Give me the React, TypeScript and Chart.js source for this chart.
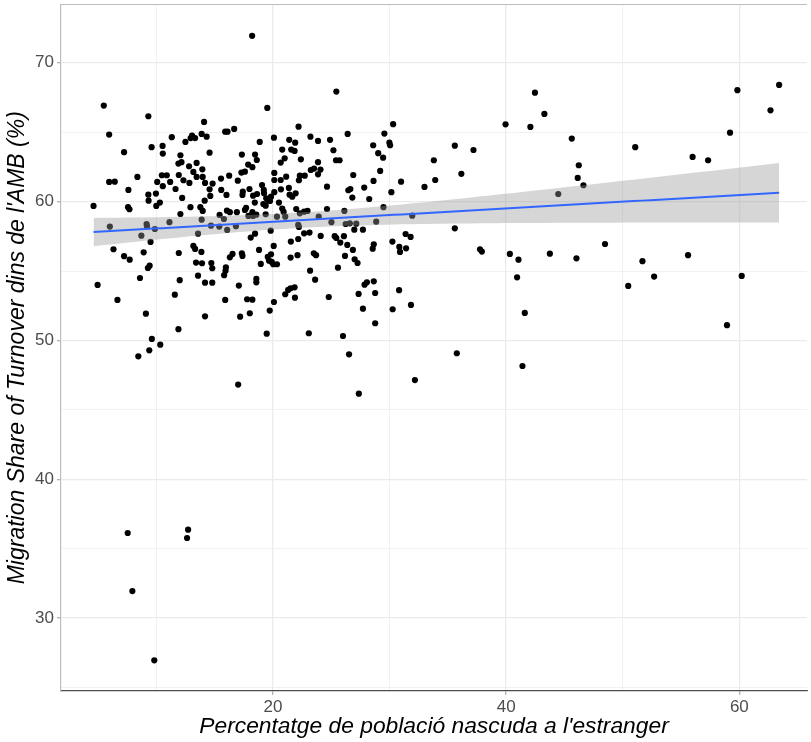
import React, { useEffect, useRef } from "react";
import { Chart, registerables } from "chart.js";

Chart.register(...registerables);

// Percentatge de població nascuda a l'estranger (x) per municipi
const xValues: number[] = [
  63.41, 59.83, 62.67, 42.47, 43.28, 39.95, 42.08, 59.2, 45.63, 35.6, 37.2, 51.07, 33.8, 55.99, 57.32, 46.23,
  36.16, 33.92, 46.14, 33.0, 46.63, 44.47, 35.6, 48.48, 37.76, 37.92, 40.32, 41.06, 43.75, 46.03, 51.69, 55.6,
  40.94, 52.69, 50.47, 60.2, 41.6, 58.94, 35.77, 41.4,
  7.55, 12.73, 12.64, 7.95, 9.83,
  9.11, 14.18, 17.19, 18.02, 19.73, 11.9, 9.62, 10.34, 9.4, 8.46, 19.47, 23.08, 26.01, 28.77, 26.53, 17.02,
  27.37, 32.18,
  18.22, 25.44,
  5.5, 9.32, 14.1, 5.96, 13.07, 13.33, 12.95, 13.89, 14.32, 15.91, 16.11, 16.68, 11.33, 12.5, 10.54, 9.6,
  7.24, 10.56, 14.57, 12.07, 11.9, 12.16, 13.46, 12.81, 13.95, 13.18, 10.48, 10.9, 11.93, 13.46, 13.98, 8.38,
  12.33, 16.25, 15.55, 5.96, 6.44, 10.08, 11.19, 12.84, 14.18, 14.83, 16.99, 10.56, 11.65, 14.57, 15.57, 7.61,
  9.32, 9.97, 14.63, 16.02, 12.22, 14.15,
  19.52, 22.2, 30.31, 29.56, 26.41, 20.09, 23.22, 18.87, 21.4, 21.91, 23.87, 24.9, 29.99, 30.05, 28.6, 20.8,
  21.57, 21.86, 25.19, 17.34, 18.47, 18.62, 29.03, 29.45, 21.01, 22.4, 25.41, 25.72, 20.67, 23.87, 17.88, 18.24,
  17.6, 17.3, 20.12, 23.25, 23.53, 24.08, 23.87, 22.31, 22.73, 21.14, 29.2, 26.89, 20.12, 20.67, 22.23, 28.63,
  30.99, 19.07, 24.64, 27.83, 17.99, 17.42, 17.39, 18.64, 18.3, 19.22, 19.24, 21.37, 20.69, 20.12, 19.84, 19.58,
  19.43, 21.43, 21.66, 21.95, 26.47, 26.64, 26.81, 28.26, 30.16,
  4.62, 7.58, 7.7, 9.34, 10.0, 10.31, 12.07, 12.93, 13.78, 13.98, 15.43, 16.06, 16.31, 16.91, 6.02, 9.17,
  9.2, 11.13, 13.89, 14.69, 15.8, 15.4, 16.08, 16.83, 9.88, 8.72, 13.58, 9.51, 13.18, 13.33, 6.33, 8.92,
  11.93, 13.87, 7.24, 7.72, 16.54, 16.31, 13.41, 13.92, 14.72, 14.8, 15.97, 15.94, 9.43, 9.28, 15.82, 8.6,
  13.58, 12.01, 14.18, 14.8, 4.97, 17.08, 11.59, 6.67, 15.91,
  18.45, 19.18, 19.38, 19.75, 17.7, 17.6, 18.24, 17.9, 18.3, 18.58, 19.38, 20.52, 20.8, 20.92, 21.06, 20.35,
  22.0, 22.31, 22.68, 22.97, 24.64, 23.93, 26.13, 29.48, 25.02, 26.24, 26.6, 27.15, 28.86, 31.95, 22.17, 22.23,
  19.81, 26.98, 27.72, 18.47, 18.1, 22.68, 23.14, 22.17, 24.1, 25.3, 25.44, 26.09, 25.78, 26.38, 21.54, 30.25,
  31.38, 31.81, 30.84, 30.9, 31.42, 28.65, 28.56, 26.86, 20.07, 18.81, 17.34, 17.39, 19.84, 19.56, 19.67, 19.9,
  20.35, 20.03, 18.96, 21.52, 22.11, 23.51, 23.7, 26.18, 27.01, 27.26, 23.19, 25.58, 23.62, 18.58, 18.58,
  28.06, 27.86, 28.65, 28.77, 27.35, 30.82, 21.06, 21.31, 21.52, 21.86, 21.89, 24.79, 17.79, 18.24, 20.09,
  31.84, 30.27, 27.72,
];

// Migration Share of Turnover dins de l'AMB (%) (y)
const yValues: number[] = [
  68.41, 68.03, 66.58, 67.85, 66.32, 65.57, 65.38, 64.97, 64.54, 64.03, 63.72, 63.92, 62.98, 63.22, 62.98, 62.62,
  62.0, 61.56, 61.71, 61.06, 61.18, 60.55, 58.08, 56.95, 56.57, 56.4, 56.23, 55.82, 56.25, 55.92, 55.71, 56.14,
  54.55, 54.6, 53.93, 54.65, 51.98, 51.1, 49.08, 48.16,
  36.13, 36.37, 35.77, 31.95, 26.96,
  51.93, 51.74, 51.71, 51.96, 52.15, 50.81, 50.11, 49.7, 49.29, 48.86, 50.49, 50.52, 50.32, 51.24, 49.0, 46.82,
  46.17, 47.15,
  71.94, 67.93,
  66.92, 66.15, 65.74, 64.83, 64.75, 64.58, 64.58, 64.88, 64.68, 65.04, 65.04, 65.24, 64.64, 64.3, 64.01, 63.92,
  63.56, 63.46, 63.53, 63.34, 62.74, 62.84, 62.79, 62.55, 62.33, 62.14, 61.9, 61.9, 61.92, 61.78, 61.78, 61.78,
  61.54, 61.87, 61.66, 61.42, 61.44, 61.42, 61.42, 61.35, 61.35, 61.3, 61.51, 61.11, 60.91, 60.89, 60.84, 60.84,
  60.5, 60.58, 60.41, 60.48, 60.27, 60.07,
  66.75, 65.4, 65.58, 64.9, 64.88, 64.61, 64.68, 64.3, 64.45, 64.25, 64.37, 64.45, 64.25, 64.06, 64.06, 63.75,
  63.75, 63.65, 63.7, 63.39, 63.39, 63.0, 63.49, 63.17, 63.12, 63.05, 62.98, 62.98, 62.81, 62.84, 62.67, 62.48,
  62.16, 62.09, 62.07, 62.28, 62.38, 62.31, 61.97, 61.87, 61.87, 61.8, 62.21, 61.92, 61.56, 61.56, 61.54, 61.49,
  61.44, 61.2, 61.08, 61.01, 60.91, 60.72, 60.48, 60.55, 60.43, 60.84, 60.6, 60.99, 60.89, 60.68, 60.36, 60.12,
  60.24, 60.5, 60.36, 60.6, 60.82, 60.91, 60.29, 60.19, 60.68,
  59.69, 59.6, 59.45, 60.07, 59.69, 59.93, 59.11, 59.6, 59.6, 59.33, 59.04, 59.35, 59.24, 59.24, 58.2, 58.39,
  58.23, 58.52, 58.7, 58.27, 58.75, 58.2, 57.96, 58.23, 58.03, 57.55, 57.69, 57.1, 56.81, 56.59, 56.57, 56.35,
  56.3, 56.38, 56.07, 55.82, 56.23, 55.99, 55.61, 55.56, 55.58, 55.2, 55.27, 55.03, 55.39, 55.22, 54.7, 54.5,
  54.67, 54.34, 54.16, 54.16, 54.0, 53.95, 53.3, 52.92, 52.92,
  59.93, 59.83, 59.71, 60.05, 59.55, 59.4, 59.24, 58.97, 58.97, 59.06, 59.09, 59.93, 59.5, 59.26, 58.92, 58.92,
  59.47, 59.16, 59.28, 59.33, 59.47, 58.92, 59.33, 59.6, 58.52, 58.39, 58.44, 58.41, 58.56, 58.99, 58.32, 58.18,
  57.91, 57.98, 57.98, 57.69, 57.41, 57.72, 57.77, 57.31, 57.53, 57.51, 57.38, 57.51, 57.05, 56.88, 57.12, 57.12,
  57.67, 57.46, 56.74, 56.38, 56.64, 56.93, 56.61, 56.52, 56.81, 56.52, 56.28, 56.09, 56.21, 56.02, 55.75, 55.66,
  55.49, 55.49, 55.51, 55.97, 56.14, 56.28, 56.14, 56.09, 55.85, 55.58, 55.03, 55.24, 54.38, 54.43, 54.19,
  54.19, 54.02, 54.26, 53.42, 53.35, 53.62, 53.33, 53.64, 53.76, 53.83, 53.08, 53.13, 52.97, 52.94, 52.77,
  52.56, 52.25, 52.29,
];

const xTickValues: number[] = [10, 20, 30, 40, 50, 60];
const xLabelled: number[] = [20, 40, 60];
const yTickValues: number[] = [25, 30, 35, 40, 45, 50, 55, 60, 65, 70];
const yLabelled: number[] = [30, 40, 50, 60, 70];

const xTitle = "Percentatge de població nascuda a l'estranger";
const yTitle = "Migration Share of Turnover dins de l'AMB (%)";

function fitLinear(xs: number[], ys: number[]) {
  const n = Math.min(xs.length, ys.length);
  let sx = 0, sy = 0;
  for (let i = 0; i < n; i++) { sx += xs[i]; sy += ys[i]; }
  const mx = sx / n, my = sy / n;
  let sxx = 0, sxy = 0;
  for (let i = 0; i < n; i++) { sxx += (xs[i] - mx) ** 2; sxy += (xs[i] - mx) * (ys[i] - my); }
  const b = sxy / sxx;
  const a = my - b * mx;
  let sse = 0;
  for (let i = 0; i < n; i++) sse += (ys[i] - a - b * xs[i]) ** 2;
  const s = Math.sqrt(sse / (n - 2));
  const t = 1.967;
  let lo = Infinity, hi = -Infinity;
  for (let i = 0; i < n; i++) { lo = Math.min(lo, xs[i]); hi = Math.max(hi, xs[i]); }
  const steps = 80;
  const line: { x: number; y: number }[] = [];
  const upper: { x: number; y: number }[] = [];
  const lower: { x: number; y: number }[] = [];
  for (let k = 0; k <= steps; k++) {
    const x = lo + ((hi - lo) * k) / steps;
    const yhat = a + b * x;
    const se = s * Math.sqrt(1 / n + (x - mx) ** 2 / sxx);
    line.push({ x, y: yhat });
    upper.push({ x, y: yhat + t * se });
    lower.push({ x, y: yhat - t * se });
  }
  return { line, upper, lower };
}

export default function App() {
  const ref = useRef<HTMLCanvasElement | null>(null);

  useEffect(() => {
    if (!ref.current) return;
    const pts = xValues.map((x, i) => ({ x, y: yValues[i] }));
    const fit = fitLinear(xValues, yValues);
    const font = "'Liberation Sans', Arial, sans-serif";

    const framePlugin = {
      id: "frame",
      afterDraw(chart: any) {
        const { left, top, right } = chart.chartArea;
        const ctx = chart.ctx;
        ctx.save();
        ctx.strokeStyle = "#bdbdbd";
        ctx.lineWidth = 1.2;
        ctx.beginPath();
        ctx.moveTo(left, top);
        ctx.lineTo(right, top);
        ctx.stroke();
        ctx.restore();
      },
    };

    const chart = new Chart(ref.current, {
      type: "scatter",
      data: {
        datasets: [
          {
            label: "points",
            data: pts,
            backgroundColor: "#000000",
            borderColor: "#000000",
            pointRadius: 3.1,
            pointBorderWidth: 0,
            order: 3,
          },
          {
            label: "upper",
            data: fit.upper,
            showLine: true,
            pointRadius: 0,
            borderWidth: 0,
            borderColor: "rgba(0,0,0,0)",
            backgroundColor: "rgba(153,153,153,0.4)",
            fill: "+1",
            order: 2,
          },
          {
            label: "lower",
            data: fit.lower,
            showLine: true,
            pointRadius: 0,
            borderWidth: 0,
            borderColor: "rgba(0,0,0,0)",
            fill: false,
            order: 2,
          },
          {
            label: "fit",
            data: fit.line,
            showLine: true,
            pointRadius: 0,
            borderWidth: 2,
            borderColor: "#3366FF",
            fill: false,
            order: 1,
          },
        ],
      },
      options: {
        animation: false,
        responsive: false,
        maintainAspectRatio: false,
        layout: { padding: { top: 4.5, right: -4, bottom: 0, left: 0 } },
        plugins: {
          legend: { display: false },
          tooltip: { enabled: false },
        },
        scales: {
          x: {
            type: "linear",
            min: 1.83,
            max: 65.8,
            afterBuildTicks: (scale: any) => {
              scale.ticks = xTickValues.map((v) => ({ value: v }));
            },
            afterFit: (scale: any) => {
              scale.height = 51;
              scale.paddingLeft = 0;
              scale.paddingRight = 0;
              scale.paddingTop = 0;
              scale.paddingBottom = 0;
            },
            grid: {
              color: (ctx: any) => "#ebebeb",
              lineWidth: (ctx: any) => (ctx.tick && xLabelled.includes(ctx.tick.value) ? 1.3 : 0.7),
              tickColor: (ctx: any) => (ctx.tick && xLabelled.includes(ctx.tick.value) ? "#b3b3b3" : "rgba(0,0,0,0)"),
              tickLength: 4,
              drawTicks: true,
            },
            border: { color: "#4d4d4d", width: 1.2 },
            ticks: {
              autoSkip: false,
              maxRotation: 0,
              padding: 2,
              color: "#4d4d4d",
              font: { family: font, size: 17 },
              callback: (v: any) => (xLabelled.includes(Number(v)) ? String(v) : ""),
            },
            title: {
              display: true,
              text: xTitle,
              color: "#000000",
              font: { family: font, size: 22.8, style: "italic" },
              padding: { top: 0, bottom: 2 },
            },
          },
          y: {
            type: "linear",
            min: 24.75,
            max: 74.2,
            afterBuildTicks: (scale: any) => {
              scale.ticks = yTickValues.map((v) => ({ value: v }));
            },
            afterFit: (scale: any) => {
              scale.width = 61;
              scale.paddingLeft = 0;
              scale.paddingRight = 0;
              scale.paddingTop = 0;
              scale.paddingBottom = 0;
            },
            grid: {
              color: (ctx: any) => "#ebebeb",
              lineWidth: (ctx: any) => (ctx.tick && yLabelled.includes(ctx.tick.value) ? 1.3 : 0.7),
              tickColor: (ctx: any) => (ctx.tick && yLabelled.includes(ctx.tick.value) ? "#b3b3b3" : "rgba(0,0,0,0)"),
              tickLength: 4,
              drawTicks: true,
            },
            border: { color: "#bdbdbd", width: 1.2 },
            ticks: {
              autoSkip: false,
              padding: 3,
              color: "#4d4d4d",
              font: { family: font, size: 17 },
              callback: (v: any) => (yLabelled.includes(Number(v)) ? String(v) : ""),
            },
            title: {
              display: true,
              text: yTitle,
              color: "#000000",
              font: { family: font, size: 23, style: "italic" },
              padding: { top: 4, bottom: 0 },
            },
          },
        },
      },
      plugins: [framePlugin],
    } as any);

    return () => chart.destroy();
  }, []);

  return (
    <div style={{ position: "fixed", left: 0, top: 0, width: 811, height: 742, background: "#ffffff" }}>
      <canvas ref={ref} width={811} height={742} style={{ width: 811, height: 742, display: "block" }} />
    </div>
  );
}
